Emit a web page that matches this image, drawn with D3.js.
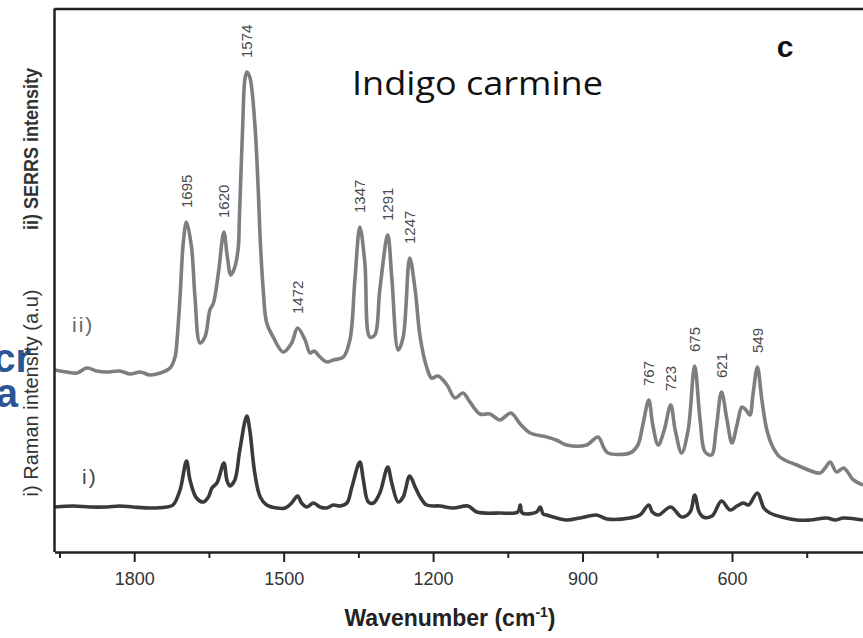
<!DOCTYPE html>
<html>
<head>
<meta charset="utf-8">
<script src="https://cdn.jsdelivr.net/npm/d3@7"></script>
<style>
  body { margin: 0; background: #fff; }
  svg { display: block; font-family: "Liberation Sans", Arial, sans-serif; }
</style>
</head>
<body>
<div id="chart"></div>
<script>
// ii) SERRS spectrum (wavenumber cm-1, a.u.)
const serrsWave = [1959, 1936, 1915, 1895, 1875, 1855, 1829, 1808, 1788, 1768, 1748, 1728, 1718, 1714, 1708, 1701, 1695,
  1685, 1678, 1668, 1658, 1648, 1641, 1631, 1620, 1613, 1606, 1598, 1591, 1589, 1582, 1578, 1574, 1568, 1558, 1551, 1547,
  1541, 1534, 1521, 1501, 1484, 1472, 1457, 1447, 1439, 1427, 1414, 1400, 1380, 1367, 1357, 1347, 1337, 1327, 1317, 1307,
  1291, 1283, 1270, 1260, 1247, 1236, 1226, 1213, 1203, 1190, 1172, 1156, 1140, 1126, 1106, 1086, 1066, 1044, 1025, 1005,
  972, 953, 932, 892, 869, 857, 849, 805, 789, 779, 767, 759, 748, 736, 723, 714, 701, 688, 675, 664, 654, 641, 632, 621,
  610, 600, 590, 580, 572, 564, 558, 549, 540, 530, 518, 504, 470, 423, 413, 403, 390, 376, 356, 337];
const serrsInt = [182, 180, 179, 184, 181, 180, 181, 178, 180, 177, 179, 184, 195, 212, 255, 312, 330,
  305, 255, 209, 215, 242, 249, 279, 320, 295, 277, 285, 305, 332, 429, 472, 480, 475, 429, 362, 312,
  262, 229, 215, 200, 209, 224, 212, 199, 201, 195, 190, 192, 195, 212, 272, 325, 289, 215, 217, 262,
  317, 275, 202, 215, 294, 262, 215, 185, 174, 176, 167, 154, 159, 150, 138, 138, 132, 139, 128, 119,
  115, 112, 107, 107, 115, 104, 99, 99, 107, 127, 152, 127, 107, 122, 147, 122, 99, 122, 186, 132, 100, 97, 122, 160,
  132, 109, 127, 145, 142, 137, 157, 185, 152, 122, 105, 95, 87, 79, 84, 90, 80, 84, 72, 67];

// i) normal Raman spectrum
const ramanWave = [1959, 1922, 1889, 1855, 1829, 1802, 1768, 1735, 1722, 1708, 1695, 1688, 1675, 1661, 1651, 1644, 1634,
  1620, 1614, 1608, 1598, 1588, 1574, 1568, 1558, 1547, 1534, 1514, 1497, 1484, 1472, 1464, 1454, 1440, 1427, 1414, 1400,
  1387, 1373, 1363, 1347, 1340, 1330, 1320, 1307, 1291, 1283, 1270, 1260, 1247, 1236, 1226, 1213, 1186, 1160, 1130, 1112,
  1066, 1030, 1025, 1021, 992, 985, 979, 972, 932, 905, 872, 851, 805, 785, 767, 760, 748, 723, 701, 684, 675, 666, 658,
  640, 621, 604, 590, 577, 567, 549, 536, 524, 470, 443, 410, 393, 376, 337];
const ramanInt = [45, 46, 45, 45, 46, 45, 44, 45, 47, 62, 91, 72, 54, 50, 55, 64, 69,
  89, 72, 66, 72, 102, 136, 122, 79, 55, 47, 44, 44, 49, 56, 49, 45, 49, 45, 44, 47,
  46, 49, 65, 90, 72, 50, 49, 59, 85, 69, 50, 55, 76, 65, 55, 47, 46, 44, 46, 40,
  39, 40, 47, 39, 40, 45, 38, 37, 32, 34, 37, 33, 34, 37, 47, 40, 37, 45, 35, 40, 57, 40, 35,
  36, 51, 42, 46, 49, 47, 59, 44, 39, 32, 32, 34, 32, 34, 32];

const peakLabels = [1695, 1620, 1574, 1472, 1347, 1291, 1247, 767, 723, 675, 621, 549];
const majorTicks = [1800, 1500, 1200, 900, 600];
const minorTicks = [1950, 1650, 1350, 1050, 750, 450];

const width = 863, height = 638;
const svg = d3.select('#chart').append('svg').attr('width', width).attr('height', height);

const x = d3.scaleLinear().domain([1960, 337]).range([54.5, 863]);
const y = d3.scaleLinear().domain([0, 544]).range([552, 8]);

const serrs = serrsWave.map((w, i) => ({w: w, v: serrsInt[i]}));
const raman = ramanWave.map((w, i) => ({w: w, v: ramanInt[i]}));

const line = d3.line()
    .x(d => x(d.w))
    .y(d => y(d.v))
    .curve(d3.curveCatmullRom.alpha(0.5));

svg.append('path').datum(serrs)
    .attr('d', line).attr('fill', 'none')
    .attr('stroke', '#7e7e7e').attr('stroke-width', 3.6).attr('stroke-linejoin', 'round');

svg.append('path').datum(raman)
    .attr('d', line).attr('fill', 'none')
    .attr('stroke', '#3a3a3a').attr('stroke-width', 3.6).attr('stroke-linejoin', 'round');

// peak labels sit above the SERRS maxima
svg.append('g').selectAll('text')
    .data(peakLabels)
    .join('text')
    .attr('transform', p => {
        const near = serrs.reduce((a, b) => Math.abs(b.w - p) < Math.abs(a.w - p) ? b : a);
        return `translate(${x(p)},${y(near.v) - 14}) rotate(-90)`;
    })
    .attr('dy', '0.35em')
    .style('font-size', '15px')
    .style('fill', '#4a4a4a')
    .text(p => p);

// frame: left and top
svg.append('line').attr('x1', 54.5).attr('x2', 54.5).attr('y1', 8.5).attr('y2', 552)
    .attr('stroke', '#222').attr('stroke-width', 2.5);
svg.append('line').attr('x1', 54.5).attr('x2', 863).attr('y1', 9).attr('y2', 9)
    .attr('stroke', '#222').attr('stroke-width', 2.5);

// bottom axis
const bottom = svg.append('g')
    .attr('transform', 'translate(0,552)')
    .call(d3.axisBottom(x).tickValues(majorTicks).tickFormat(d3.format('d'))
        .tickSize(10).tickSizeOuter(0).tickPadding(10));
bottom.select('.domain').attr('stroke', '#222').attr('stroke-width', 2.5);
bottom.selectAll('.tick line').attr('stroke', '#222').attr('stroke-width', 2);
bottom.selectAll('.tick text')
    .style('font-size', '18px').style('fill', '#333')
    .style('font-family', '"Liberation Sans", Arial, sans-serif');

const minor = svg.append('g')
    .attr('transform', 'translate(0,552)')
    .call(d3.axisBottom(x).tickValues(minorTicks).tickSize(6).tickFormat(''));
minor.select('.domain').remove();
minor.selectAll('.tick line').attr('stroke', '#222').attr('stroke-width', 2);

// axis title
const xt = svg.append('text')
    .attr('x', 450).attr('y', 626)
    .attr('text-anchor', 'middle')
    .style('font-size', '23px').style('font-weight', 'bold').style('fill', '#222');
xt.append('tspan').text('Wavenumber (cm');
xt.append('tspan').attr('dy', -9).style('font-size', '14px').text('-1');
xt.append('tspan').attr('dy', 9).text(')');

// y labels
svg.append('text')
    .attr('transform', 'translate(38,149) rotate(-90)')
    .attr('text-anchor', 'middle')
    .attr('textLength', 162).attr('lengthAdjust', 'spacingAndGlyphs')
    .style('font-size', '21px').style('font-weight', 'bold').style('fill', '#333')
    .text('ii) SERRS intensity');

// leftover slide text, cut by the left edge
svg.append('text').attr('x', 31).attr('y', 372).attr('text-anchor', 'end')
    .style('font-size', '40px').style('font-weight', 'bold').style('fill', '#2b5595').text('cr');
svg.append('text').attr('x', 18).attr('y', 407).attr('text-anchor', 'end')
    .style('font-size', '40px').style('font-weight', 'bold').style('fill', '#2b5595').text('a');

svg.append('text')
    .attr('transform', 'translate(38,393) rotate(-90)')
    .attr('text-anchor', 'middle')
    .attr('textLength', 207).attr('lengthAdjust', 'spacingAndGlyphs')
    .style('font-size', '21px').style('fill', '#333')
    .text('i) Raman intensity (a.u)');

// trace tags
svg.append('text').attr('x', 72).attr('y', 332)
    .style('font-size', '21px').style('fill', '#666').style('letter-spacing', '2px').text('ii)');
svg.append('text').attr('x', 82).attr('y', 484)
    .style('font-size', '21px').style('fill', '#444').style('letter-spacing', '2px').text('i)');

// panel letter and title
svg.append('text').attr('x', 785).attr('y', 57).attr('text-anchor', 'middle')
    .style('font-size', '30px').style('font-weight', 'bold').style('fill', '#111').text('c');

svg.append('text').attr('x', 352).attr('y', 95)
    .attr('textLength', 251).attr('lengthAdjust', 'spacingAndGlyphs')
    .style('font-family', '"Open Sans", "Noto Sans", sans-serif')
    .style('font-size', '33px').style('fill', '#111')
    .text('Indigo carmine');
</script>
</body>
</html>
